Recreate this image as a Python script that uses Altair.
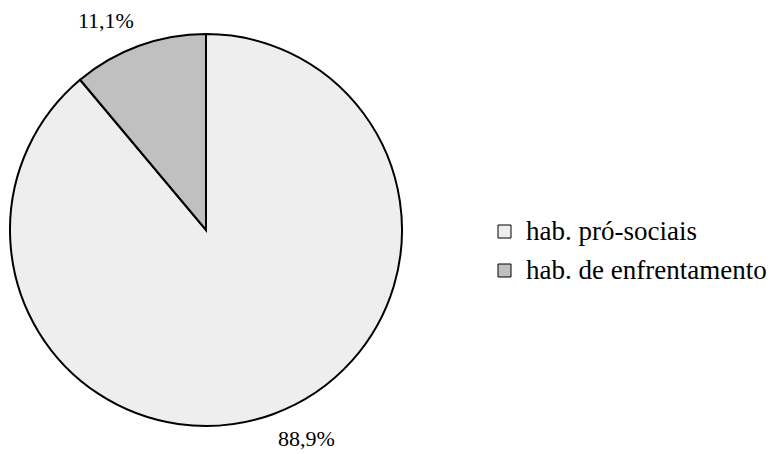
import altair as alt
import pandas as pd
import math

# Share of social skills by type
categories = ["hab. pró-sociais", "hab. de enfrentamento"]
values = [88.9, 11.1]
labels = ["88,9%", "11,1%"]
fills = ["#eeeeee", "#c0c0c0"]

df = pd.DataFrame({
    "tipo": categories,
    "valor": values,
    "rotulo": labels,
    "ordem": list(range(len(categories))),
})

FONT = "Liberation Serif"
CX, CY, R = 206, 230, 196
TOTAL = sum(values)

pie = alt.Chart(df).mark_arc(
    radius=R, stroke="black", strokeWidth=2
).encode(
    theta=alt.Theta("valor:Q", stack=True),
    order=alt.Order("ordem:Q"),
    x=alt.value(CX),
    y=alt.value(CY),
    color=alt.Color(
        "tipo:N",
        scale=alt.Scale(domain=categories, range=fills),
        sort=categories,
        legend=alt.Legend(
            title=None,
            orient="none",
            legendX=491,
            legendY=218,
            symbolType="square",
            symbolSize=169,
            symbolStrokeColor="black",
            symbolStrokeWidth=1,
            labelFont=FONT,
            labelFontSize=27,
            labelColor="black",
            labelOffset=8,
            labelLimit=400,
            rowPadding=11,
            padding=0,
        ),
    ),
)

# Mid-angle of each slice, computed before splitting the labels by side
mids = alt.Chart(df).transform_window(
    cum="sum(valor)", sort=[alt.SortField("ordem")]
).transform_calculate(
    mid="datum.cum - datum.valor / 2"
)

def slice_label(order_value, align, baseline, dy):
    return mids.transform_filter(alt.datum.ordem == order_value).mark_text(
        radius=211, font=FONT, fontSize=22, align=align, baseline=baseline,
        dy=dy, color="black"
    ).encode(
        theta=alt.Theta("mid:Q", stack=None,
                        scale=alt.Scale(domain=[0, TOTAL], range=[0, 2 * math.pi])),
        x=alt.value(CX),
        y=alt.value(CY),
        text="rotulo:N",
    )

chart = alt.layer(
    pie,
    slice_label(0, "left", "top", 1),
    slice_label(1, "right", "alphabetic", -4),
).resolve_scale(theta="independent").properties(
    width=774, height=454, padding=0, autosize="none", background="white"
).configure_view(stroke=None).configure_legend(labelFont=FONT).configure_text(font=FONT)

chart.save("out.html", embed_options={"renderer": "svg", "actions": False})
